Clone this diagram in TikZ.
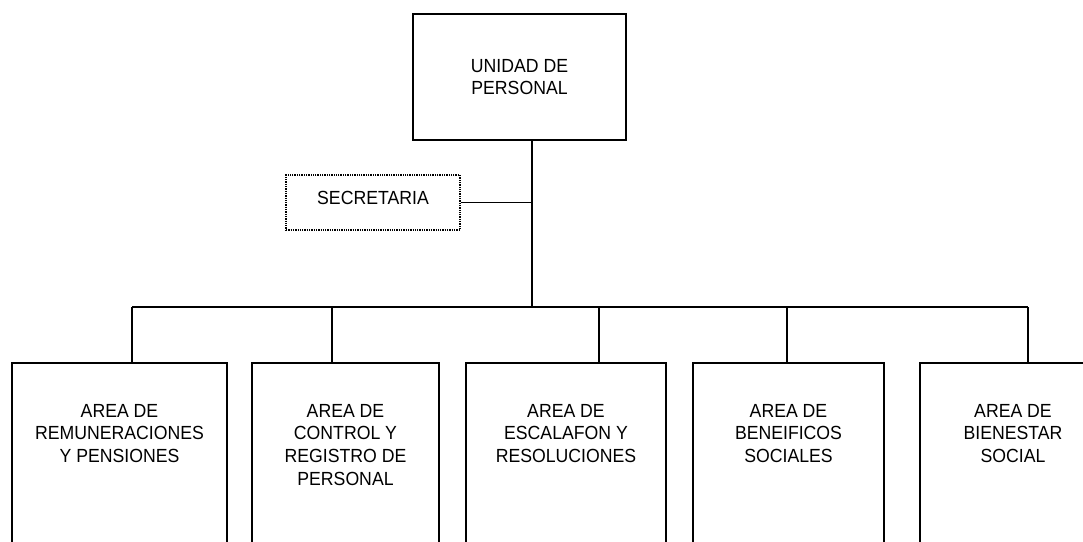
\documentclass[tikz,border=0pt]{standalone}
\usepackage{fontspec}
\setmainfont[FakeStretch=0.93]{Liberation Sans}
\begin{document}
\begin{tikzpicture}[x=1pt,y=-1pt,
  box/.style={draw, line width=1.5pt, inner sep=0pt},
  secbox/.style={draw, line width=1.3pt, densely dotted, inner sep=0pt},
  txt/.style={align=center, inner sep=0pt, font=\fontsize{19}{22.7}\selectfont},
  conn/.style={line width=1.5pt}]
\useasboundingbox[fill=white] (0,0) rectangle (1083,541);
% top box
\node[box, minimum width=213pt, minimum height=126pt] (top) at (519.5,77) {};
\node[txt] (toptxt) at (top.center) {UNIDAD DE\\PERSONAL};
% secretaria
\node[secbox, minimum width=174pt, minimum height=55pt] (sec) at (373,202.5) {};
\node[txt] (sectxt) at (373,198) {SECRETARIA};
% junction
\coordinate (bj) at (532,307);
\coordinate (bl) at (132,307);
\coordinate (br) at (1028,307);
% bottom boxes (top at 362, extend past bottom)
\node[box, minimum width=215pt, minimum height=190pt, anchor=north] (b1) at (119.5,362) {};
\node[box, minimum width=187pt, minimum height=190pt, anchor=north] (b2) at (345.5,362) {};
\node[box, minimum width=200pt, minimum height=190pt, anchor=north] (b3) at (566,362) {};
\node[box, minimum width=191pt, minimum height=190pt, anchor=north] (b4) at (788.5,362) {};
\node[box, minimum width=186pt, minimum height=190pt, anchor=north] (b5) at (1013,362) {};
\node[txt, anchor=north] (t1) at ([yshift=-42pt]b1.north) {AREA DE\\REMUNERACIONES\\Y PENSIONES};
\node[txt, anchor=north] (t2) at ([yshift=-42pt]b2.north) {AREA DE\\CONTROL Y\\REGISTRO DE\\PERSONAL};
\node[txt, anchor=north] (t3) at ([yshift=-42pt]b3.north) {AREA DE\\ESCALAFON Y\\RESOLUCIONES};
\node[txt, anchor=north] (t4) at ([yshift=-42pt]b4.north) {AREA DE\\BENEIFICOS\\SOCIALES};
\node[txt, anchor=north] (t5) at ([yshift=-42pt]b5.north) {AREA DE\\BIENESTAR\\SOCIAL};
% connectors
\draw[conn] (top.south -| bj) -- (bj);
\draw[conn] (sec.east) -- (sec.east -| bj);
\draw[conn] (bl) -- (br);
\coordinate (v1) at (132,307);
\coordinate (v2) at (332,307);
\coordinate (v3) at (599,307);
\coordinate (v4) at (787,307);
\coordinate (v5) at (1028,307);
\draw[conn] (v1) -- (b1.north -| v1);
\draw[conn] (v2) -- (b2.north -| v2);
\draw[conn] (v3) -- (b3.north -| v3);
\draw[conn] (v4) -- (b4.north -| v4);
\draw[conn] (v5) -- (b5.north -| v5);
\end{tikzpicture}
\end{document}
